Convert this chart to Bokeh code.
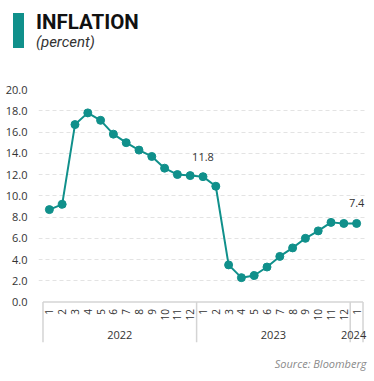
import math
from bokeh.plotting import figure
from bokeh.layouts import column
from bokeh.models import FactorRange, Range1d, ColumnDataSource, FixedTicker, NumeralTickFormatter, Title, Div
from bokeh.core.properties import value
from bokeh.embed import file_html
from bokeh.resources import INLINE

years = ["2022"] * 12 + ["2023"] * 12 + ["2024"]
months = [str(m) for m in range(1, 13)] * 2 + ["1"]
inflation = [8.7, 9.2, 16.7, 17.8, 17.1, 15.8, 15.0, 14.3, 13.7, 12.6, 12.0, 11.9,
             11.8, 10.9, 3.5, 2.3, 2.5, 3.3, 4.3, 5.1, 6.0, 6.7, 7.5, 7.4,
             7.4]
label_idx = [12, 24]
y_ticks = [0, 2, 4, 6, 8, 10, 12, 14, 16, 18, 20]
title = "INFLATION"
subtitle = "(percent)"
source = "Source: Bloomberg"

TEAL = "#10908b"
FONT = "Open Sans"
TXT = "#333333"
BOX = "#d4d4d4"

W = 374

# ---------- header ----------
header = Div(width=W, height=60, margin=(0, 0, 0, 0), text=(
    '<div style="position:relative;width:374px;height:60px;margin:0;padding:0;">'
    f'<div style="position:absolute;left:13px;top:13px;width:11px;height:35px;background:{TEAL};"></div>'
    '<div style="position:absolute;left:36px;top:9.5px;font-family:Roboto;font-weight:bold;'
    f'font-size:20.5px;line-height:normal;color:#111111;white-space:nowrap;">{title}</div>'
    '<div style="position:absolute;left:36px;top:33.2px;font-family:Roboto;font-style:italic;'
    f'font-size:15px;line-height:normal;color:{TXT};white-space:nowrap;">{subtitle}</div>'
    '</div>'))

# ---------- main chart ----------
factors = list(zip(years, months))
groups = list(dict.fromkeys(years))
bounds = [0] + [i for i in range(1, len(years)) if years[i] != years[i - 1]] + [len(years)]
group_shift = [0] * (len(groups) - 1) + [-3]   # keep last year label inside the box edge

src = ColumnDataSource(dict(x=factors, y=inflation))
lab = ColumnDataSource(dict(x=[factors[i] for i in label_idx],
                            y=[inflation[i] for i in label_idx],
                            t=[f"{inflation[i]:.1f}" for i in label_idx]))
grp = ColumnDataSource(dict(x=groups, y=[0] * len(groups), t=groups, dx=group_shift))

Y0 = -3.8
p = figure(width=W, height=321, output_backend="svg", toolbar_location=None, margin=(0, 0, 0, 0),
           x_range=FactorRange(*factors, factor_padding=0, group_padding=0, subgroup_padding=0,
                               range_padding=0.35, range_padding_units="absolute"),
           y_range=Range1d(Y0, 20),
           min_border_left=38, min_border_right=7, min_border_top=29, min_border_bottom=35)
p.outline_line_color = None
p.xaxis.visible = False

# category box (axis area)
p.segment(x0=[bounds[0]], y0=[0], x1=[bounds[-1]], y1=[0], line_color=BOX, line_width=1.5)
p.segment(x0=bounds, y0=[0] * len(bounds), x1=bounds, y1=[Y0] * len(bounds), line_color=BOX, line_width=1.5)
p.text(x=factors, y=[0] * len(factors), text=months, angle=math.pi / 2, y_offset=7,
       text_align="right", text_baseline="middle", text_font=value(FONT),
       text_font_size="10px", text_color=TXT)
p.text("x", "y", text="t", source=grp, x_offset="dx", y_offset=33,
       text_align="center", text_baseline="middle", text_font=value(FONT),
       text_font_size="11px", text_color=TXT)

p.line("x", "y", source=src, color=TEAL, line_width=2)
p.scatter("x", "y", source=src, color=TEAL, size=8)
p.text("x", "y", text="t", source=lab, y_offset=-20, text_align="center", text_baseline="middle",
       text_font=value(FONT), text_font_size="11px", text_color=TXT)

p.xgrid.grid_line_color = None
p.ygrid.grid_line_color = "#e3e3e3"
p.ygrid.grid_line_dash = "4 3"
p.ygrid.ticker = FixedTicker(ticks=y_ticks[1:])

p.yaxis.ticker = FixedTicker(ticks=y_ticks)
p.yaxis.formatter = NumeralTickFormatter(format="0.0")
p.yaxis.axis_line_color = None
p.yaxis.major_tick_line_color = None
p.yaxis.minor_tick_line_color = None
p.yaxis.major_label_standoff = 5
p.yaxis.major_label_text_font = FONT
p.yaxis.major_label_text_font_size = "11px"
p.yaxis.major_label_text_color = TXT

p.add_layout(Title(text=source, align="right", offset=1, standoff=22,
                   text_font=FONT, text_font_style="italic", text_font_size="11px",
                   text_color="#8a8a8a"), "below")

open("out.html", "w").write(file_html(column(header, p, spacing=0, margin=(0, 0, 0, 0)), INLINE))
